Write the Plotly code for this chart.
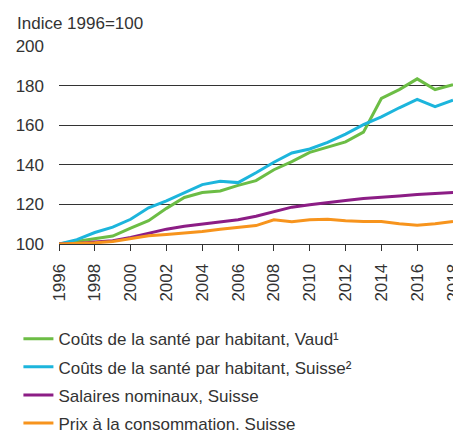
import plotly.graph_objects as go

years = list(range(1996, 2019))
vaud = [100, 101.3, 102.6, 104.0, 108.0, 111.8, 118.0, 123.5, 126.0, 126.8, 129.6, 132.0,
        137.5, 141.6, 146.3, 148.8, 151.6, 156.5, 173.5, 178.0, 183.4, 178.0, 180.5]
suisse = [100, 102.2, 105.8, 108.5, 112.5, 118.3, 121.8, 126.0, 130.0, 131.7, 131.0, 136.0,
          141.3, 146.0, 148.0, 151.3, 155.5, 160.3, 164.2, 168.8, 173.0, 169.4, 172.6]
salaires = [100, 100.3, 101.0, 101.6, 103.3, 105.5, 107.5, 109.0, 110.0, 110.9, 112.2, 114.0,
            116.3, 118.6, 119.8, 121.0, 122.0, 123.0, 123.8, 124.3, 125.0, 125.5, 126.0]
prix = [100, 100.2, 100.6, 101.3, 102.8, 104.2, 104.8, 105.5, 106.3, 107.5, 108.5, 109.3,
        112.2, 111.3, 112.2, 112.5, 111.8, 111.4, 111.4, 110.2, 109.5, 110.2, 111.4]

names = ["Coûts de la santé par habitant, Vaud¹",
         "Coûts de la santé par habitant, Suisse²",
         "Salaires nominaux, Suisse",
         "Prix à la consommation, Suisse"]
colors = ["#6cbd45", "#1cb5dc", "#8c1d85", "#f7941d"]
series = [vaud, suisse, salaires, prix]

x_ticks = list(range(1996, 2019, 2))
y_ticks = [100, 120, 140, 160, 180, 200]

FONT = "Liberation Sans, Arial, sans-serif"

fig = go.Figure()
for i, (name, col, ys) in enumerate(zip(names, colors, series)):
    fig.add_trace(go.Scatter(x=years, y=ys, mode="lines", name=name,
                             legendgroup="g%d" % i,
                             line=dict(color=col, width=3), legendrank=i + 1))

fig.update_layout(
    width=453, height=430,
    margin=dict(l=59, r=0, t=46, b=186, autoexpand=False),
    paper_bgcolor="white", plot_bgcolor="white",
    font=dict(family=FONT, size=17, color="#333333"),
    showlegend=True,
    legend=dict(orientation="v", x=-0.103, xanchor="left", y=-0.39, yanchor="top",
                font=dict(family=FONT, size=17, color="#333333"),
                bgcolor="rgba(0,0,0,0)", tracegroupgap=3),
    xaxis=dict(range=[1996, 2018], tickmode="array", tickvals=x_ticks,
               ticktext=[str(v) for v in x_ticks], tickangle=-90,
               ticks="outside", ticklen=6, tickcolor="#333333", tickwidth=1,
               showgrid=False, showline=True, linecolor="#333333", linewidth=1,
               zeroline=False, tickfont=dict(size=17), ticklabelstandoff=6,
               ticklabeloverflow="allow", automargin=False),
    yaxis=dict(range=[100, 200], tickmode="array", tickvals=y_ticks,
               ticktext=[str(v) for v in y_ticks], showgrid=True,
               gridcolor="#333333", gridwidth=1, zeroline=False, showline=False,
               ticks="", tickfont=dict(size=17), ticklabelstandoff=14,
               automargin=False),
    annotations=[dict(text="Indice 1996=100", xref="paper", yref="paper",
                      x=-44 / 394, y=1 + 23 / 198.3, xanchor="left", yanchor="middle",
                      showarrow=False, font=dict(family=FONT, size=17, color="#333333"))],
)

fig.write_html("out.html", config={"displayModeBar": False},
               post_script="document.body.style.margin='0';document.body.style.overflow='hidden';")
